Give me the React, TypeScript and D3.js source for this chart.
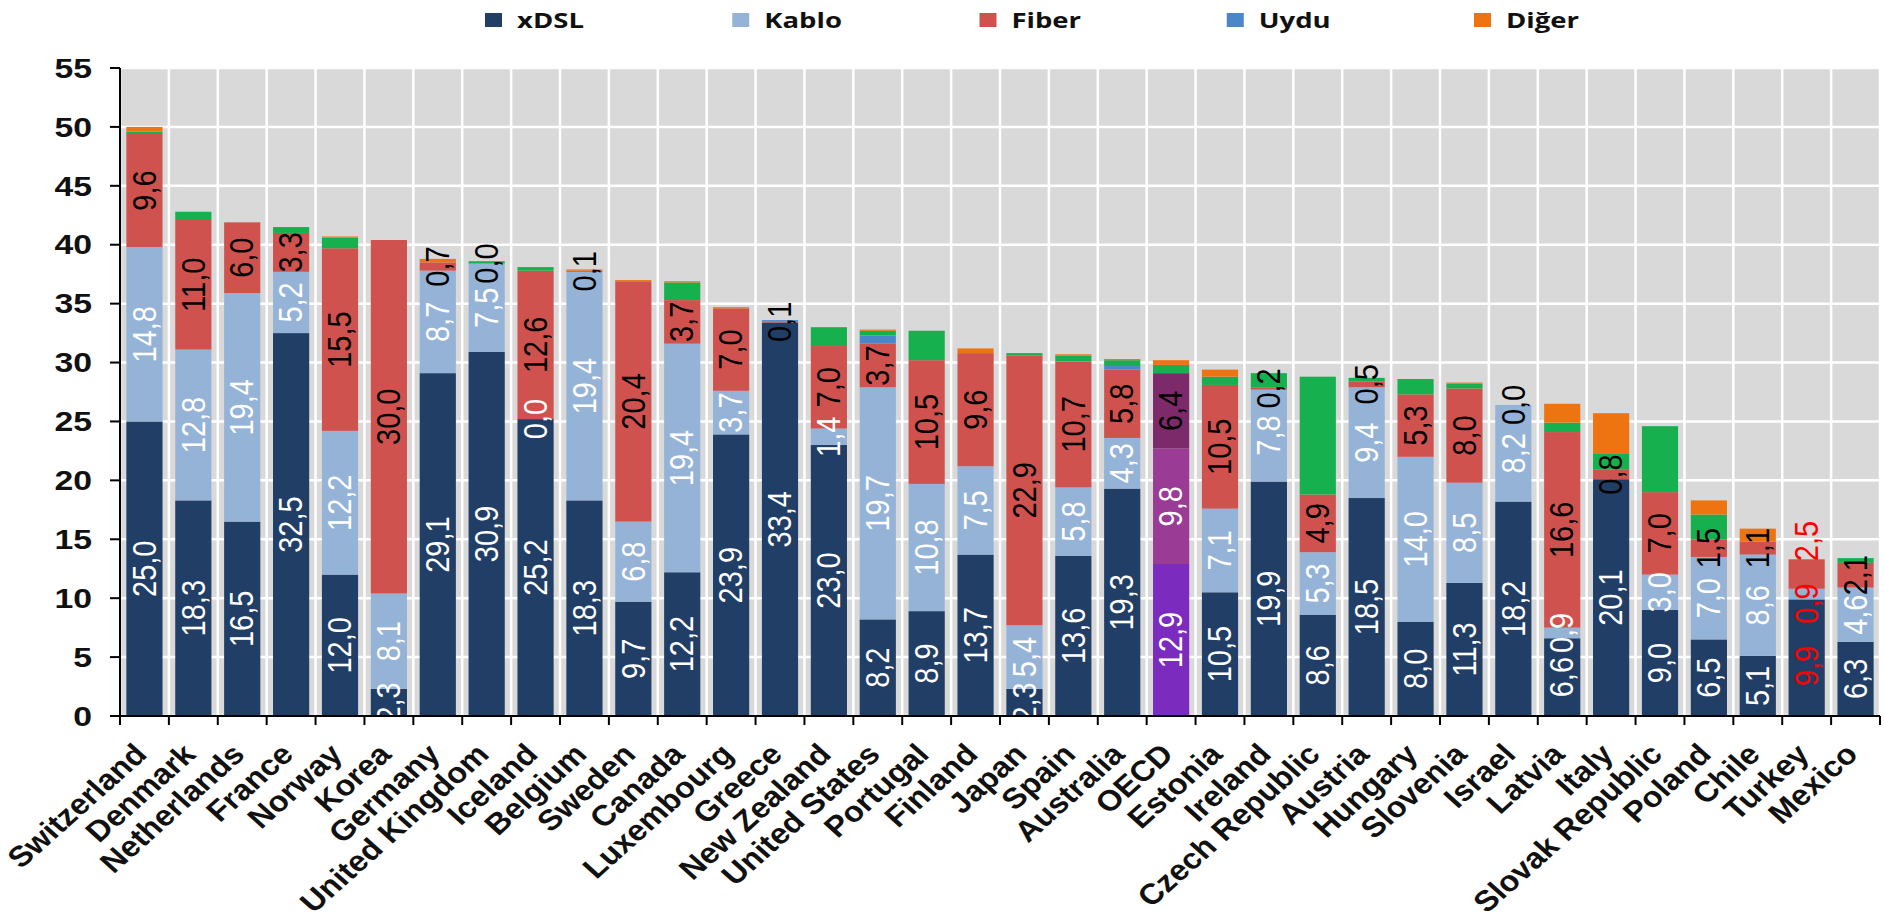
import React from 'react';
import * as d3 from 'd3';

// Sabit genişbant abonelikleri, 100 kişi başına (teknolojiye göre)
const countries = [
  'Switzerland', 'Denmark', 'Netherlands', 'France', 'Norway', 'Korea', 'Germany',
  'United Kingdom', 'Iceland', 'Belgium', 'Sweden', 'Canada', 'Luxembourg', 'Greece',
  'New Zealand', 'United States', 'Portugal', 'Finland', 'Japan', 'Spain', 'Australia',
  'OECD', 'Estonia', 'Ireland', 'Czech Republic', 'Austria', 'Hungary', 'Slovenia',
  'Israel', 'Latvia', 'Italy', 'Slovak Republic', 'Poland', 'Chile', 'Turkey', 'Mexico',
];

const xdsl = [25.0, 18.3, 16.5, 32.5, 12.0, 2.3, 29.1, 30.9, 25.2, 18.3, 9.7, 12.2, 23.9, 33.4, 23.0, 8.2, 8.9, 13.7, 2.3, 13.6, 19.3, 12.9, 10.5, 19.9, 8.6, 18.5, 8.0, 11.3, 18.2, 6.6, 20.1, 9.0, 6.5, 5.1, 9.9, 6.3];
const kablo = [14.8, 12.8, 19.4, 5.2, 12.2, 8.1, 8.7, 7.5, 0.0, 19.4, 6.8, 19.4, 3.7, null, 1.4, 19.7, 10.8, 7.5, 5.4, 5.8, 4.3, 9.8, 7.1, 7.8, 5.3, 9.4, 14.0, 8.5, 8.2, 0.9, null, 3.0, 7.0, 8.6, 0.9, 4.6];
const fiber = [9.6, 11.0, 6.0, 3.3, 15.5, 30.0, 0.7, 0.0, 12.6, 0.1, 20.4, 3.7, 7.0, 0.1, 7.0, 3.7, 10.5, 9.6, 22.9, 10.7, 5.8, 6.4, 10.5, 0.2, 4.9, 0.5, 5.3, 8.0, 0.0, 16.6, 0.8, 7.0, 1.5, 1.1, 2.5, 2.1];
const uydu = [0, 0, 0, 0, 0, 0, 0, 0, 0, 0, 0, 0, 0, 0.1, 0, 0.7, 0, 0, 0, 0, 0.3, 0, 0, 0, 0, 0, 0, 0, 0, 0, 0, 0, 0, 0, 0, 0];
// yeşil dilim (sabit kablosuz) lejantta yok
const kablosuz = [0.2, 0.7, 0, 0.5, 0.9, 0, 0, 0.2, 0.3, 0, 0, 1.5, 0, 0, 1.6, 0.4, 2.5, 0, 0.2, 0.5, 0.5, 0.7, 0.7, 1.2, 10.0, 0.3, 1.3, 0.4, 0, 0.8, 1.4, 5.6, 2.1, 0, 0, 0.4];
const diger = [0.4, 0, 0, 0, 0.1, 0, 0.3, 0, 0, 0.1, 0.1, 0.1, 0.1, 0, 0, 0.1, 0, 0.4, 0, 0.1, 0.1, 0.4, 0.6, 0, 0, 0, 0, 0.1, 0, 1.6, 3.4, 0, 1.2, 1.1, 0, 0];

const yTicks = [0, 5, 10, 15, 20, 25, 30, 35, 40, 45, 50, 55];
const legendLabels = ['xDSL', 'Kablo', 'Fiber', 'Uydu', 'Diğer'];

const keys = ['xdsl', 'kablo', 'fiber', 'uydu', 'kablosuz', 'diger'];
const legendKeys = ['xdsl', 'kablo', 'fiber', 'uydu', 'diger'];
const colors: Record<string, string> = {
  xdsl: '#213e66',
  kablo: '#95b3d7',
  fiber: '#cf524e',
  uydu: '#4a86c8',
  kablosuz: '#17b04f',
  diger: '#ee7412',
};
const oecdColors: Record<string, string> = {
  xdsl: '#7b2cbe',
  kablo: '#9a3b96',
  fiber: '#7c2a69',
};
const labelColors: Record<string, string> = { xdsl: '#ffffff', kablo: '#ffffff', fiber: '#000000' };
// Turkey's labels sit off-centre in the original
const labelShift: Record<string, Record<string, number>> = {
  Turkey: { xdsl: -0.7, kablo: -0.8, fiber: 2.8 },
};

const W = 1884;
const H = 924;
const M = { top: 68, right: 4, bottom: 208, left: 120 };
const K = 1.25; // the picture is stretched horizontally

const fmt = (v: number) => d3.format('.1f')(v).replace('.', ',');

export default function App() {
  const x = d3.scaleBand<string>()
    .domain(countries)
    .range([M.left, W - M.right])
    .paddingInner(0.26)
    .paddingOuter(0.13);
  const y = d3.scaleLinear().domain([0, 55]).range([H - M.bottom, M.top]);

  const series: Record<string, (number | null)[]> = { xdsl, kablo, fiber, uydu, kablosuz, diger };
  const rows = countries.map((c, i) => {
    const r: any = { country: c };
    keys.forEach(k => { r[k] = series[k][i] ?? 0; });
    return r;
  });
  const stacked = d3.stack<any>().keys(keys)(rows);

  const gap = (x.step() - x.bandwidth()) / 2;
  const bounds = countries.map(c => (x(c) as number) - gap).concat([(x(countries[countries.length - 1]) as number) + x.bandwidth() + gap]);
  const [x0, x1] = x.range();
  const legendX = d3.scalePoint<string>().domain(legendLabels).range([485, 1474]);

  return (
    <svg width={W} height={H} style={{ position: 'absolute', left: 0, top: 0, background: '#fff' }}
      fontFamily="'Liberation Sans', Arial, sans-serif">
      {/* legend */}
      {legendLabels.map((l, i) => (
        <g key={l}>
          <rect x={legendX(l)} y={13} width={17} height={14} fill={colors[legendKeys[i]]} />
          <text transform={`translate(${(legendX(l) as number) + 32},28) scale(${K},1)`}
            fontFamily="'Open Sans', sans-serif" fontWeight={700} fontSize={22} fill="#111">{l}</text>
        </g>
      ))}

      {/* plot background and grid */}
      <rect x={x0} y={y(55)} width={x1 - x0} height={y(0) - y(55)} fill="#d9d9d9" />
      {yTicks.map(t => (
        <line key={t} x1={x0} x2={x1} y1={y(t)} y2={y(t)} stroke="#fff" strokeWidth={2.5} />
      ))}
      {bounds.map((b, i) => (
        <line key={i} x1={b} x2={b} y1={y(55)} y2={y(0)} stroke="#fff" strokeWidth={2.5} />
      ))}

      {/* bars */}
      {stacked.map(s => (
        <g key={s.key}>
          {s.map((d, i) => {
            const c = countries[i];
            const h = y(d[0]) - y(d[1]);
            if (h <= 0) return null;
            const fill = c === 'OECD' && oecdColors[s.key] ? oecdColors[s.key] : colors[s.key];
            return <rect key={c} x={x(c)} y={y(d[1])} width={x.bandwidth()} height={h} fill={fill} />;
          })}
        </g>
      ))}

      {/* value labels */}
      {stacked.filter(s => labelColors[s.key]).map(s => (
        <g key={s.key}>
          {s.map((d, i) => {
            const c = countries[i];
            const v = series[s.key][i];
            if (v === null) return null;
            const shift = labelShift[c]?.[s.key] ?? 0;
            const cx = (x(c) as number) + x.bandwidth() / 2;
            const cy = y((d[0] + d[1]) / 2 + shift);
            const fill = c === 'Turkey' ? '#ff0000' : labelColors[s.key];
            return (
              <text key={c} transform={`translate(${cx},${cy}) scale(1.15,1) rotate(-90)`}
                textAnchor="middle" dominantBaseline="central" fontSize={29} fill={fill}>
                {fmt(v)}
              </text>
            );
          })}
        </g>
      ))}

      {/* axes */}
      <line x1={x0} x2={x0} y1={y(55)} y2={y(0)} stroke="#000" strokeWidth={2} />
      <line x1={x0} x2={x1} y1={y(0)} y2={y(0)} stroke="#000" strokeWidth={2} />
      {yTicks.map(t => (
        <g key={t}>
          <line x1={x0 - 10} x2={x0} y1={y(t)} y2={y(t)} stroke="#000" strokeWidth={2} />
          <text transform={`translate(${x0 - 28},${y(t)}) scale(${K},1)`} textAnchor="end"
            dominantBaseline="central" fontWeight={700} fontSize={27} fill="#111">{t}</text>
        </g>
      ))}
      {bounds.map((b, i) => (
        <line key={i} x1={b} x2={b} y1={y(0)} y2={y(0) + 9} stroke="#000" strokeWidth={2} />
      ))}
      {countries.map(c => (
        <text key={c}
          transform={`translate(${(x(c) as number) + x.bandwidth() / 2 + 4},${y(0) + 40}) scale(1.12,1) rotate(-45)`}
          textAnchor="end" fontWeight={700} fontSize={29} fill="#111">{c}</text>
      ))}
    </svg>
  );
}
